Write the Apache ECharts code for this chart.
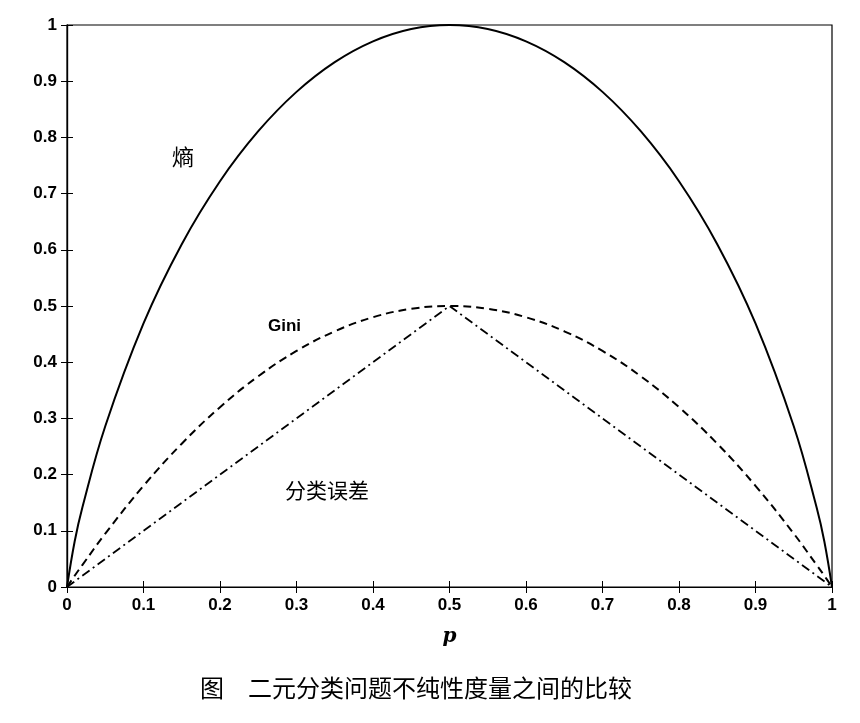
<!DOCTYPE html>
<html><head><meta charset="utf-8">
<script src="https://cdn.jsdelivr.net/npm/echarts@6/dist/echarts.min.js"></script>
<style>html,body{margin:0;background:#fff}#c{width:860px;height:723px}</style>
</head><body><div id="c"></div>
<script>
const pVals = [0,0.01,0.02,0.05,0.1,0.15,0.2,0.25,0.3,0.35,0.4,0.45,0.5,0.55,0.6,0.65,0.7,0.75,0.8,0.85,0.9,0.95,0.98,0.99,1];
const entropy = [0,0.081,0.141,0.286,0.469,0.61,0.722,0.811,0.881,0.934,0.971,0.993,1,0.993,0.971,0.934,0.881,0.811,0.722,0.61,0.469,0.286,0.141,0.081,0];
const gini = [0,0.02,0.039,0.095,0.18,0.255,0.32,0.375,0.42,0.455,0.48,0.495,0.5,0.495,0.48,0.455,0.42,0.375,0.32,0.255,0.18,0.095,0.039,0.02,0];
const errP = [0,0.5,1];
const errV = [0,0.5,0];
const ticks = [0,0.1,0.2,0.3,0.4,0.5,0.6,0.7,0.8,0.9,1];
const fmt = v => (v===0||v===1)?String(v):v.toFixed(1);
const zip = (a,b)=>a.map((x,i)=>[x,b[i]]);
const F = 'Liberation Sans, Arial, sans-serif';
const axBase = {min:0,max:1,interval:0.1,splitLine:{show:false},
  axisLine:{show:true,lineStyle:{color:'#000',width:1.2}},
  axisTick:{inside:true,length:6,lineStyle:{color:'#000'}}};
const chart = echarts.init(document.getElementById('c'));
chart.setOption({
  animation:false,
  grid:{left:67,right:28,top:25,bottom:136,show:true,borderColor:'#000',borderWidth:1.2},
  xAxis:[
    Object.assign({type:'value',position:'bottom',axisLabel:{color:'#000',fontFamily:F,fontSize:17,fontWeight:'bold',margin:10,formatter:fmt},
      name:'p',nameLocation:'middle',nameGap:40,nameTextStyle:{fontFamily:'DejaVu Serif',fontStyle:'italic',fontWeight:'bold',fontSize:20,color:'#000'}},axBase),
    Object.assign({type:'value',position:'top',axisLabel:{show:false}},axBase)
  ],
  yAxis:[
    Object.assign({type:'value',position:'left',axisLabel:{color:'#000',fontFamily:F,fontSize:17,fontWeight:'bold',margin:10,formatter:fmt}},axBase),
    Object.assign({type:'value',position:'right',axisLabel:{show:false}},axBase)
  ],
  series:[
    {type:'line',data:zip(pVals,entropy),smooth:0.4,symbol:'none',lineStyle:{color:'#000',width:2}},
    {type:'line',data:zip(pVals,gini),smooth:0.4,symbol:'none',lineStyle:{color:'#000',width:2,type:[8,5]}},
    {type:'line',data:zip(errP,errV),symbol:'none',lineStyle:{color:'#000',width:1.8,type:[9,4,2,4]}}
  ],
  graphic:[
    {type:'text',left:172,top:146,style:{text:'熵',font:'22px "Noto Sans CJK SC"',fill:'#000'}},
    {type:'text',left:268,top:318,style:{text:'Gini',font:'bold 17px '+F,fill:'#000'}},
    {type:'text',left:285,top:480,style:{text:'分类误差',font:'21px "Noto Sans CJK SC"',fill:'#000'}},
    {type:'text',left:200,top:676,style:{text:'图　二元分类问题不纯性度量之间的比较',font:'24px "Noto Sans CJK SC"',fill:'#000'}}
  ]
});
</script></body></html>
